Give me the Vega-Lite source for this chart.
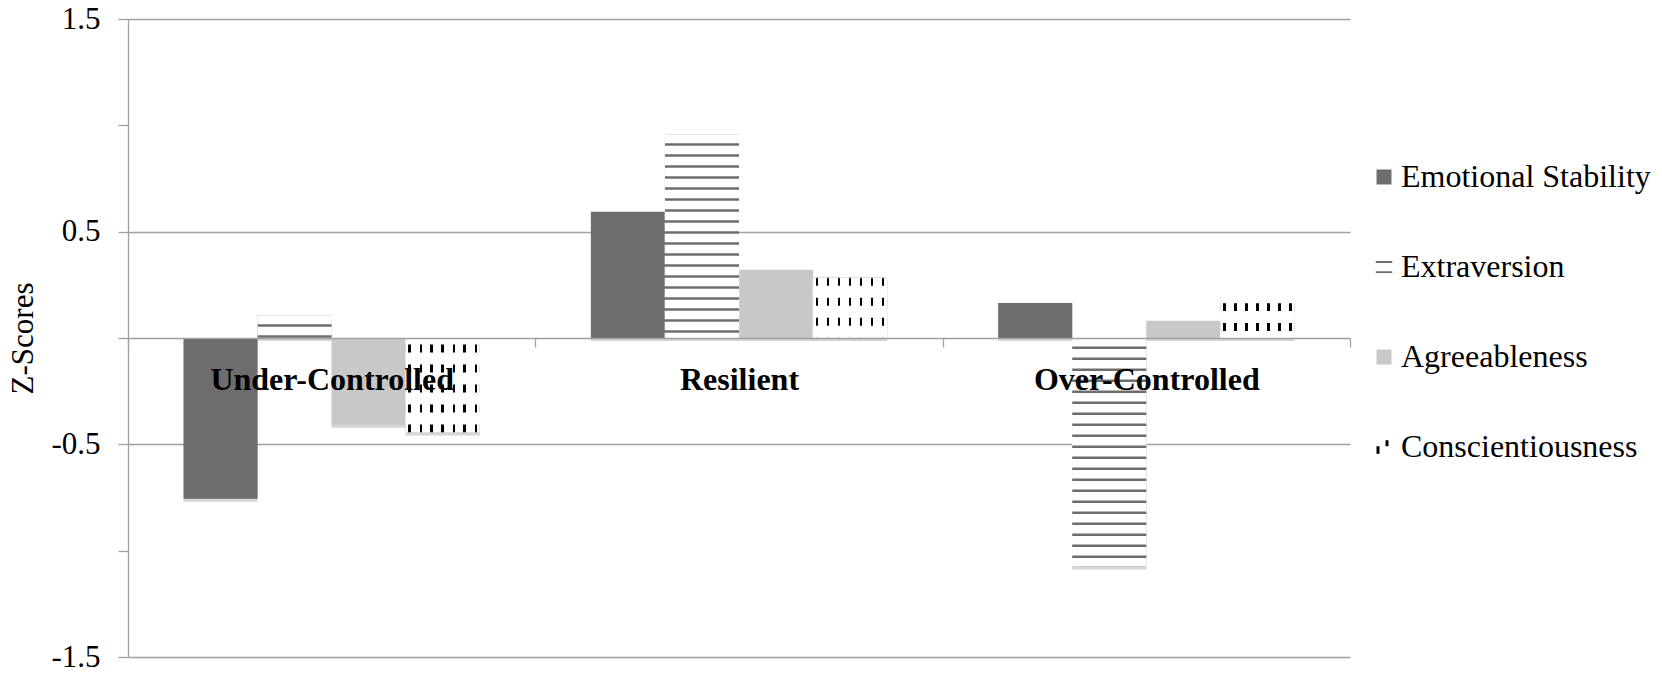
{
  "$schema": "https://vega.github.io/schema/vega-lite/v6.json",
  "width": 1222,
  "height": 638,
  "autosize": {"type": "none"},
  "padding": {"left": 128, "top": 19, "right": 312, "bottom": 19},
  "background": "#ffffff",
  "config": {
    "view": {"stroke": null},
    "font": "Liberation Serif"
  },
  "data": {
    "values": [
      {"group": "Under-Controlled", "trait": "Emotional Stability", "value": -0.756},
      {"group": "Under-Controlled", "trait": "Extraversion", "value": 0.105},
      {"group": "Under-Controlled", "trait": "Agreeableness", "value": -0.408},
      {"group": "Under-Controlled", "trait": "Conscientiousness", "value": -0.444},
      {"group": "Resilient", "trait": "Emotional Stability", "value": 0.594},
      {"group": "Resilient", "trait": "Extraversion", "value": 0.956},
      {"group": "Resilient", "trait": "Agreeableness", "value": 0.321},
      {"group": "Resilient", "trait": "Conscientiousness", "value": 0.283},
      {"group": "Over-Controlled", "trait": "Emotional Stability", "value": 0.165},
      {"group": "Over-Controlled", "trait": "Extraversion", "value": -1.074},
      {"group": "Over-Controlled", "trait": "Agreeableness", "value": 0.081},
      {"group": "Over-Controlled", "trait": "Conscientiousness", "value": 0.165}
    ]
  },
  "encoding": {
    "x": {
      "field": "group",
      "type": "nominal",
      "sort": ["Under-Controlled", "Resilient", "Over-Controlled"],
      "scale": {"paddingInner": 0, "paddingOuter": 0},
      "axis": {
        "orient": "bottom",
        "offset": -319,
        "title": null,
        "tickBand": "extent",
        "tickSize": 9,
        "tickColor": "#a0a0a0",
        "tickWidth": 1.3,
        "domainColor": "#a0a0a0",
        "domainWidth": 1.3,
        "labelFont": "Liberation Serif",
        "labelFontSize": 32,
        "labelFontWeight": "bold",
        "labelColor": "#000000",
        "labelPadding": 42,
        "labelBaseline": "alphabetic",
        "labelAngle": 0,
        "labelLimit": 600,
        "grid": false,
        "zindex": 1
      }
    },
    "xOffset": {
      "field": "trait",
      "type": "nominal",
      "sort": ["Emotional Stability", "Extraversion", "Agreeableness", "Conscientiousness"],
      "scale": {"paddingInner": 0, "paddingOuter": 0.75}
    }
  },
  "layer": [
    {
      "mark": {"type": "bar", "color": "#000000", "opacity": 0.16, "yOffset": 3, "y2Offset": 3},
      "encoding": {
        "y": {"field": "value", "type": "quantitative", "title": "Z-Scores", "scale": {"domain": [-1.5, 1.5], "nice": false, "zero": false}}
      }
    },
    {
      "mark": {"type": "bar"},
      "encoding": {
        "y": {
          "field": "value",
          "type": "quantitative",
          "title": "Z-Scores",
          "scale": {"domain": [-1.5, 1.5], "nice": false, "zero": false},
          "axis": {
            "values": [-1.5, -1, -0.5, 0, 0.5, 1, 1.5],
            "labelExpr": "(datum.value === 0 || abs(datum.value) === 1) ? '' : (datum.value < 0 ? '-' : '') + format(abs(datum.value), '.1f')",
            "grid": true,
            "gridOpacity": {"condition": {"test": "datum.value === 0 || abs(datum.value) === 1", "value": 0}, "value": 1},
            "gridColor": "#a0a0a0",
            "gridWidth": 1.3,
            "domainColor": "#a0a0a0",
            "domainWidth": 1.3,
            "tickColor": "#a0a0a0",
            "tickWidth": 1.3,
            "tickSize": 10,
            "labelFont": "Liberation Serif",
            "labelFontSize": 31,
            "labelColor": "#000000",
            "labelPadding": 18,
            "titleFont": "Liberation Serif",
            "titleFontSize": 31,
            "titleFontWeight": "normal",
            "titleColor": "#000000",
            "titleAngle": -90,
            "titleX": -96,
            "titleY": 319,
            "titleBaseline": "alphabetic",
            "titleAlign": "center"
          }
        },
        "color": {
          "field": "trait",
          "type": "nominal",
          "scale": {
            "domain": ["Emotional Stability", "Extraversion", "Agreeableness", "Conscientiousness"],
            "range": ["#6d6d6d", "#6d6d6d", "#c8c8c8", "#000000"]
          },
          "legend": {
            "orient": "none",
            "legendX": 1240,
            "legendY": 142,
            "title": null,
            "padding": 0,
            "rowPadding": 58,
            "symbolSize": 225,
            "symbolStrokeWidth": 0,
            "symbolType": {"expr": "datum.value === 'Extraversion' ? 'M-1.1,-0.8H1.1V-0.55H-1.1Z M-1.1,0.55H1.1V0.8H-1.1Z' : (datum.value === 'Conscientiousness' ? 'M-1,-0.1H-0.6V0.9H-1Z M0.2,-0.9H0.6V-0.1H0.2Z' : 'square')"},
            "labelFont": "Liberation Serif",
            "labelFontSize": 32,
            "labelColor": "#000000",
            "labelOffset": 1,
            "labelLimit": 400,
            "direction": "vertical"
          }
        }
      }
    },
    {
      "transform": [{"filter": "datum.trait === 'Extraversion'"}],
      "mark": {"type": "rule", "stroke": "#ffffff", "strokeWidth": 74.5, "strokeDash": [8.5, 2.5], "strokeCap": "butt"},
      "encoding": {
        "y": {"field": "value", "type": "quantitative", "title": "Z-Scores", "scale": {"domain": [-1.5, 1.5], "nice": false, "zero": false}},
        "y2": {"datum": 0},
        "strokeDashOffset": {"condition": [{"test": "datum.group === 'Under-Controlled'", "value": 8.72}, {"test": "datum.group === 'Resilient'", "value": 3.74}], "value": 8.75}
      }
    },
    {
      "transform": [{"filter": "datum.trait === 'Conscientiousness'"}],
      "mark": {
        "type": "bar",
        "fill": {
          "gradient": "linear", "x1": 0, "y1": 0, "x2": 1, "y2": 0,
          "stops": [
            {"offset": 0, "color": "#ffffff"},
            {"offset": 0.037, "color": "#ffffff"}, {"offset": 0.037, "color": "#000000"}, {"offset": 0.071, "color": "#000000"}, {"offset": 0.071, "color": "#ffffff"},
            {"offset": 0.186, "color": "#ffffff"}, {"offset": 0.186, "color": "#000000"}, {"offset": 0.22, "color": "#000000"}, {"offset": 0.22, "color": "#ffffff"},
            {"offset": 0.334, "color": "#ffffff"}, {"offset": 0.334, "color": "#000000"}, {"offset": 0.368, "color": "#000000"}, {"offset": 0.368, "color": "#ffffff"},
            {"offset": 0.483, "color": "#ffffff"}, {"offset": 0.483, "color": "#000000"}, {"offset": 0.517, "color": "#000000"}, {"offset": 0.517, "color": "#ffffff"},
            {"offset": 0.632, "color": "#ffffff"}, {"offset": 0.632, "color": "#000000"}, {"offset": 0.666, "color": "#000000"}, {"offset": 0.666, "color": "#ffffff"},
            {"offset": 0.78, "color": "#ffffff"}, {"offset": 0.78, "color": "#000000"}, {"offset": 0.814, "color": "#000000"}, {"offset": 0.814, "color": "#ffffff"},
            {"offset": 0.929, "color": "#ffffff"}, {"offset": 0.929, "color": "#000000"}, {"offset": 0.963, "color": "#000000"}, {"offset": 0.963, "color": "#ffffff"},
            {"offset": 1, "color": "#ffffff"}
          ]
        },
        "stroke": "#ffffff",
        "strokeWidth": 0.6
      },
      "encoding": {
        "y": {"field": "value", "type": "quantitative", "title": "Z-Scores", "scale": {"domain": [-1.5, 1.5], "nice": false, "zero": false}}
      }
    },
    {
      "transform": [{"filter": "datum.trait === 'Conscientiousness'"}],
      "mark": {"type": "rule", "stroke": "#ffffff", "strokeWidth": 74.5, "strokeDash": [12, 8], "strokeDashOffset": 12, "strokeCap": "butt"},
      "encoding": {
        "y": {"field": "value", "type": "quantitative", "title": "Z-Scores", "scale": {"domain": [-1.5, 1.5], "nice": false, "zero": false}},
        "y2": {"datum": 0}
      }
    }
  ]
}
